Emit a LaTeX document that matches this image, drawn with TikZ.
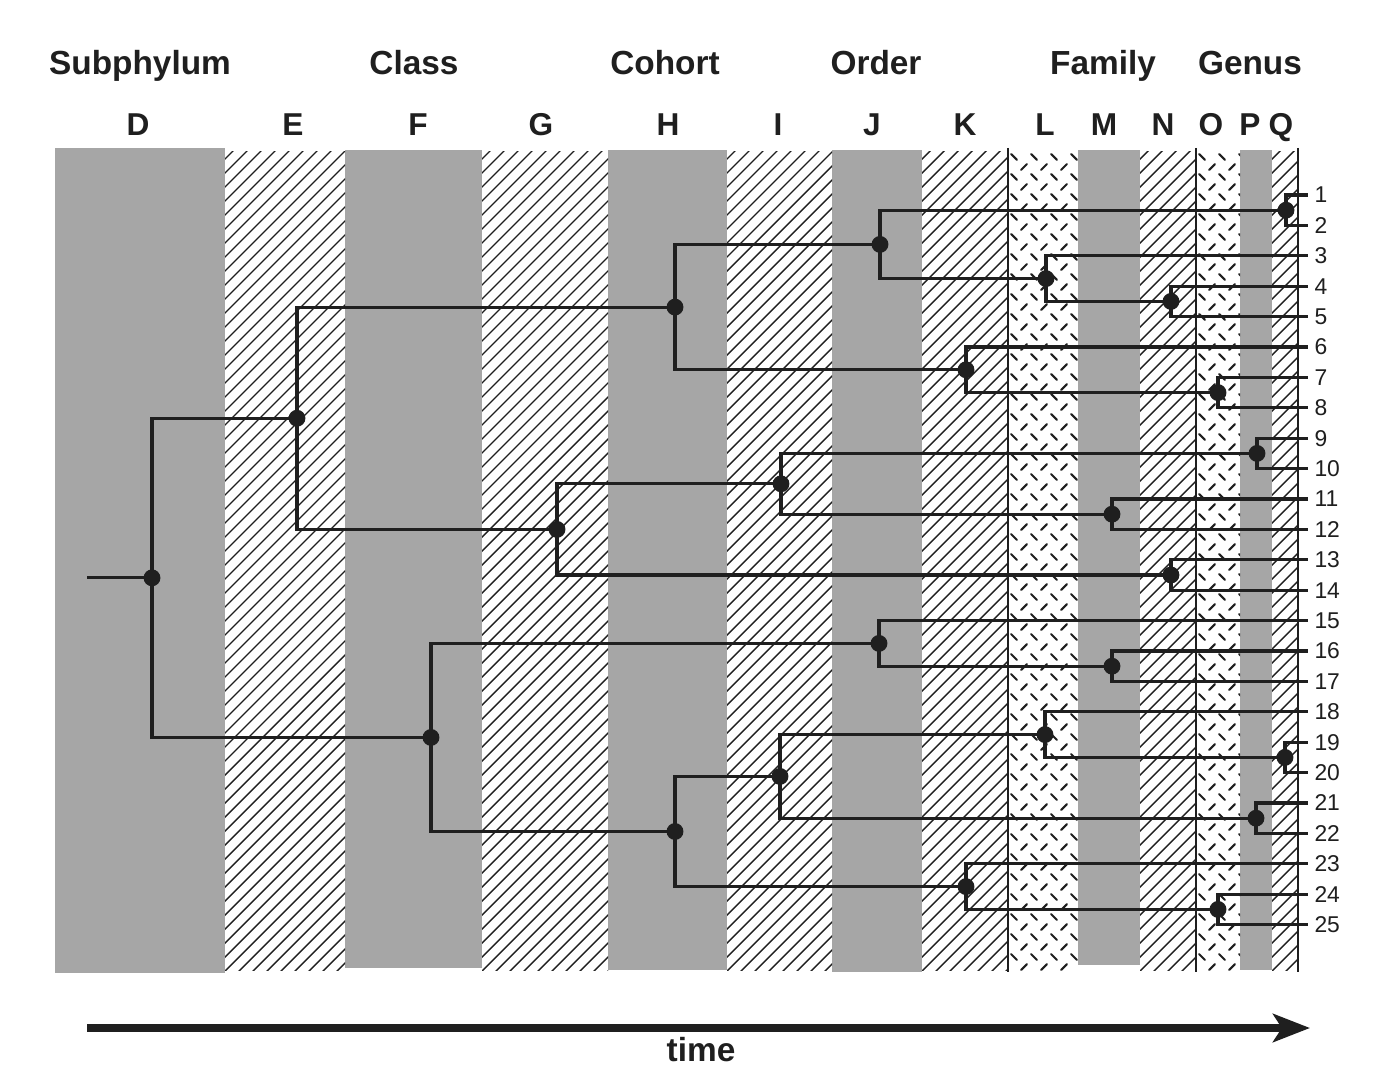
\documentclass[tikz,border=0pt]{standalone}
\usepackage{fontspec}
\setmainfont{Liberation Sans}
\usetikzlibrary{arrows.meta}
\definecolor{bandgray}{gray}{0.65}
\definecolor{ink}{gray}{0.12}
\begin{document}
\begin{tikzpicture}[x=0.02cm,y=-0.02cm,
  dot/.style={circle,fill=ink,inner sep=0pt,minimum size=9.6pt},
  branch/.style={draw=ink,line width=1.8pt,line join=miter},
  rule/.style={draw=ink,line width=1.1pt},
  hatchline/.style={draw=ink,line width=0.8pt},
  dashmark/.style={draw=ink,line width=1.2pt,line cap=round},
  head/.style={font=\fontsize{19}{22}\selectfont\bfseries,anchor=base,text=ink},
  letter/.style={font=\fontsize{18}{21}\selectfont\bfseries,anchor=base,text=ink},
  leaflbl/.style={font=\fontsize{13}{15}\selectfont,anchor=west,inner xsep=3.5pt,inner ysep=0pt,text=ink},
]
\useasboundingbox[fill=white] (0,0) rectangle (1380,1081);

% rank headings
\foreach \x/\t in {140/Subphylum,414/Class,665/Cohort,876/Order,1103/Family,1250/Genus}
  \node[head] (h-\t) at (\x,75) {\t};
\foreach \x/\t in {138/D,293/E,418/F,541/G,668/H,778/I,872/J,965/K,1045/L,1104/M,1163/N,1211/O,1250/P,1281/Q}
  \node[letter] (c-\t) at (\x,136) {\t};

% grey bands
\foreach \a/\b/\t/\u in {55/225/148/973,345/482/150/968,608/727/150/970,832/922/150/972,1078/1140/150/965,1240/1272/150/970}
  \fill[bandgray] (\a,\t) rectangle (\b,\u);

% hatched bands
\foreach \a/\b in {225/345,482/608,727/832,922/1008,1140/1196,1272/1298}{
  \begin{scope}
    \clip (\a,152) rectangle (\b,970);
    \foreach \s in {0,14,...,1000}
      \draw[hatchline] ({\a-830+\s},975) -- ++(850,-850);
  \end{scope}
}

% dashed-texture bands
\foreach \a/\b in {1008/1078,1196/1240}{
  \begin{scope}
    \clip (\a,150) rectangle (\b,970);
    \foreach \r in {0,...,41}
      \foreach \c in {0,...,3}{
        \draw[dashmark] ({\a+6+20*\c},{157+20*\r}) ++(-2.8,-2.8) -- ++(5.6,5.6);
        \draw[dashmark] ({\a+16+20*\c},{167+20*\r}) ++(-2.8,2.8) -- ++(5.6,-5.6);
      }
  \end{scope}
}

% band separators
\foreach \x in {1008,1196,1298}
  \draw[rule] (\x,148) -- (\x,972);

% leaf numbers
\foreach \k in {1,...,25}
  \node[leaflbl] (l\k) at (1308,{195+(\k-1)*30.4}) {\k};

% branching points
\node[dot] (root) at (152,577.85) {};
\node[dot] (E1) at (297,418.25) {};
\node[dot] (H1) at (675,307.1) {};
\node[dot] (J1) at (880,244.4) {};
\node[dot] (Q1) at (1286,210.2) {};
\node[dot] (L1) at (1046,278.6) {};
\node[dot] (N1) at (1171,301.4) {};
\node[dot] (K1) at (966,369.8) {};
\node[dot] (O1) at (1218,392.6) {};
\node[dot] (G1) at (557,529.4) {};
\node[dot] (I1) at (781,483.8) {};
\node[dot] (P1) at (1257,453.4) {};
\node[dot] (M1) at (1112,514.2) {};
\node[dot] (N2) at (1171,575) {};
\node[dot] (F1) at (431,737.45) {};
\node[dot] (J2) at (879,643.4) {};
\node[dot] (M2) at (1112,666.2) {};
\node[dot] (H2) at (675,831.5) {};
\node[dot] (I2) at (780,776.4) {};
\node[dot] (L2) at (1045,734.6) {};
\node[dot] (Q2) at (1285,757.4) {};
\node[dot] (P2) at (1256,818.2) {};
\node[dot] (K2) at (966,886.6) {};
\node[dot] (O2) at (1218,909.4) {};
\coordinate (stub) at (87,577.85);

% tree branches
\draw[branch] (stub) -- (root.center);
\foreach \p/\c in {root/E1,root/F1,E1/H1,E1/G1,H1/J1,H1/K1,J1/Q1,J1/L1,L1/N1,K1/O1,
                   G1/I1,G1/N2,I1/P1,I1/M1,F1/J2,F1/H2,J2/M2,H2/I2,H2/K2,I2/L2,I2/P2,L2/Q2,K2/O2}
  \draw[branch] (\p.center) |- (\c.center);
\foreach \p/\c in {Q1/l1,Q1/l2,L1/l3,N1/l4,N1/l5,K1/l6,O1/l7,O1/l8,P1/l9,P1/l10,M1/l11,M1/l12,
                   N2/l13,N2/l14,J2/l15,M2/l16,M2/l17,L2/l18,Q2/l19,Q2/l20,P2/l21,P2/l22,K2/l23,O2/l24,O2/l25}
  \draw[branch] (\p.center) |- (\c.west);

% time axis
\coordinate (tstart) at (87,1028);
\coordinate (tend) at (1310,1028);
\draw[draw=ink,line width=4pt,-{Stealth[length=21pt,width=16pt,inset=5pt]}] (tstart) -- (tend);
\node[head] (timelbl) at (701,1061) {time};
\end{tikzpicture}
\end{document}
